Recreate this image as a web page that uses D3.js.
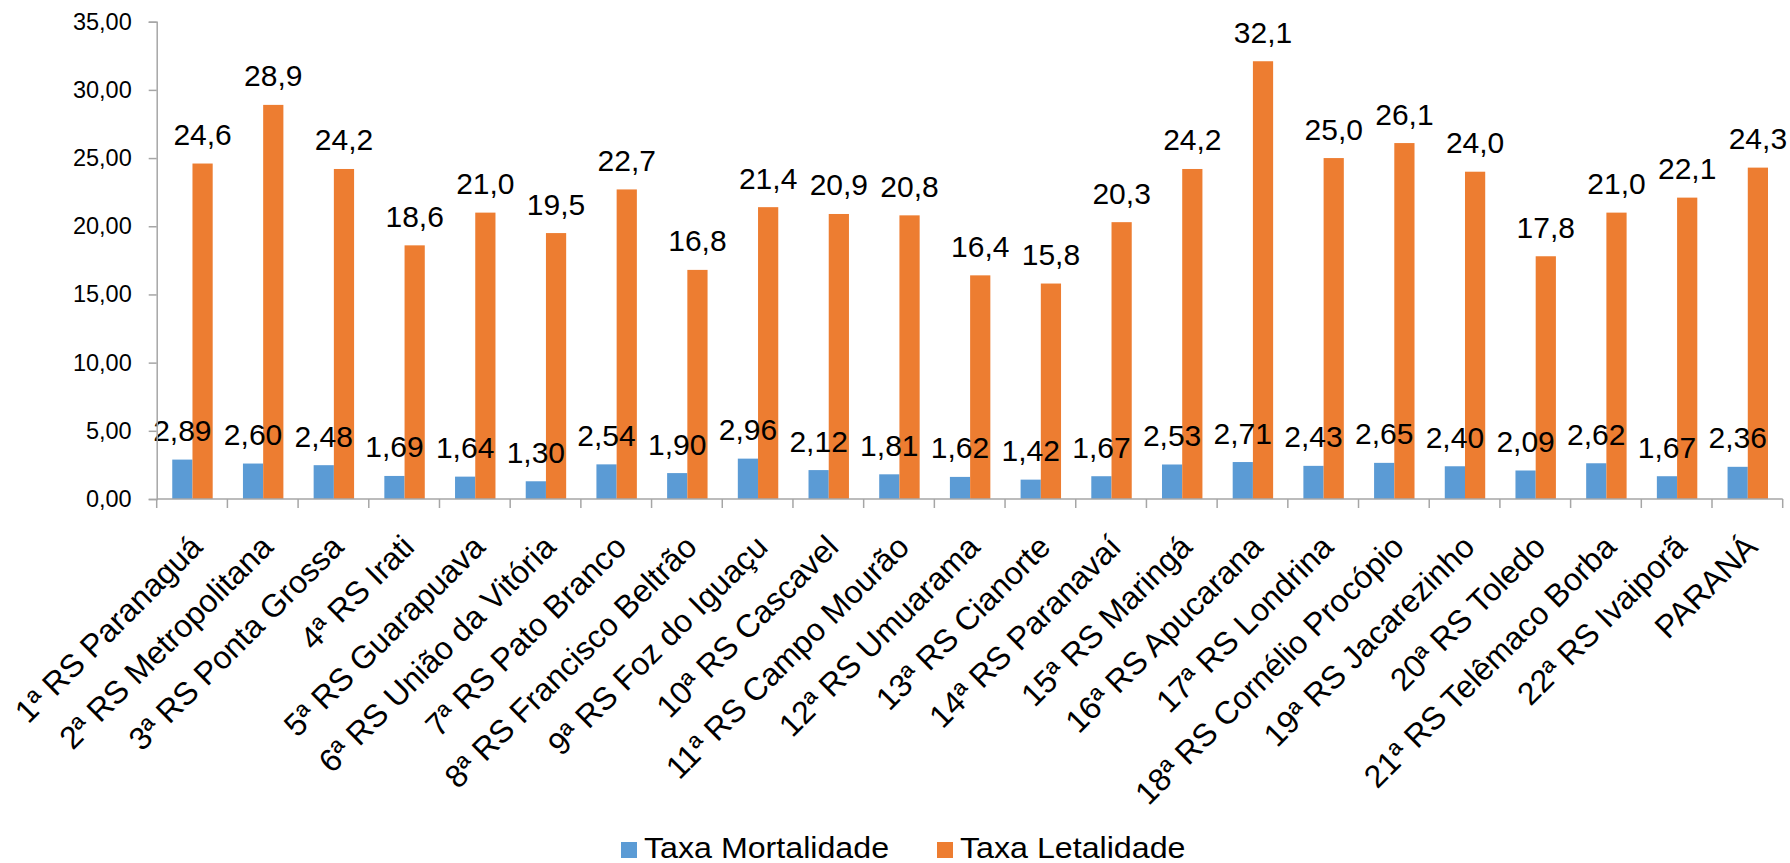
<!DOCTYPE html>
<html>
<head>
<meta charset="utf-8">
<script src="https://cdn.jsdelivr.net/npm/d3@7"></script>
<style>
  html, body { margin: 0; padding: 0; background: #fff; }
  svg text { font-family: "Liberation Sans", Arial, sans-serif; fill: #000; }
</style>
</head>
<body>
<svg id="chart" width="1790" height="863"></svg>
<script>
const categories = [
  "1ª RS Paranaguá", "2ª RS Metropolitana", "3ª RS Ponta Grossa", "4ª RS Irati",
  "5ª RS Guarapuava", "6ª RS União da Vitória", "7ª RS Pato Branco",
  "8ª RS Francisco Beltrão", "9ª RS Foz do Iguaçu", "10ª RS Cascavel",
  "11ª RS Campo Mourão", "12ª RS Umuarama", "13ª RS Cianorte", "14ª RS Paranavaí",
  "15ª RS Maringá", "16ª RS Apucarana", "17ª RS Londrina", "18ª RS Cornélio Procópio",
  "19ª RS Jacarezinho", "20ª RS Toledo", "21ª RS Telêmaco Borba", "22ª RS Ivaiporã",
  "PARANÁ"
];
const taxaMortalidade = [2.89, 2.60, 2.48, 1.69, 1.64, 1.30, 2.54, 1.90, 2.96, 2.12, 1.81, 1.62, 1.42, 1.67, 2.53, 2.71, 2.43, 2.65, 2.40, 2.09, 2.62, 1.67, 2.36];
const taxaLetalidade = [24.6, 28.9, 24.2, 18.6, 21.0, 19.5, 22.7, 16.8, 21.4, 20.9, 20.8, 16.4, 15.8, 20.3, 24.2, 32.1, 25.0, 26.1, 24.0, 17.8, 21.0, 22.1, 24.3];
const seriesNames = ["Taxa Mortalidade", "Taxa Letalidade"];
const seriesColors = ["#5B9BD5", "#ED7D31"];
const yTicks = [0, 5, 10, 15, 20, 25, 30, 35];

(function () {
const svg = d3.select("#chart");
const pLeft = 156.7, pRight = 1782.7, pTop = 21.7, pBottom = 499;
const axisColor = "#A6A6A6";

const x = d3.scaleBand().domain(categories).range([pLeft, pRight]).padding(0);
const bw = x.bandwidth();
const xs = d3.scaleBand().domain([0, 1]).range([bw * 0.22, bw * 0.792]).padding(0);
const y = d3.scaleLinear().domain([0, 35]).range([pBottom, pTop]);

const comma = v => v.toFixed(2).replace(".", ",");
const comma1 = v => v.toFixed(1).replace(".", ",");

const series = [taxaMortalidade, taxaLetalidade];
const fmts = [comma, comma1];
series.forEach((vals, si) => {
  svg.append("g").selectAll("rect").data(vals).join("rect")
    .attr("x", (d, i) => x(categories[i]) + xs(si))
    .attr("width", xs.bandwidth())
    .attr("y", d => y(d))
    .attr("height", d => pBottom - y(d))
    .attr("fill", seriesColors[si]);
});
series.forEach((vals, si) => {
  svg.append("g").selectAll("text").data(vals).join("text")
    .attr("x", (d, i) => x(categories[i]) + xs(si) + xs.bandwidth() / 2)
    .attr("y", d => y(d) - 18.5)
    .attr("text-anchor", "middle")
    .attr("font-size", 30)
    .text(d => fmts[si](d));
});

const yAxis = d3.axisLeft(y).tickValues(yTicks).tickFormat(comma).tickSize(8).tickPadding(17);
const gy = svg.append("g").attr("transform", `translate(${pLeft},0)`).call(yAxis);
gy.select(".domain").attr("stroke", axisColor).attr("stroke-width", 1.5);
gy.selectAll(".tick line").attr("stroke", axisColor).attr("stroke-width", 1.5);
gy.selectAll(".tick text").attr("font-size", 23.5).attr("fill", "#000")
  .style("font-family", "'Liberation Sans', Arial, sans-serif");

const boundaries = categories.map(c => x(c)).concat([pRight]);
const gx = svg.append("g");
gx.append("line").attr("x1", pLeft).attr("x2", pRight).attr("y1", pBottom).attr("y2", pBottom)
  .attr("stroke", axisColor).attr("stroke-width", 1.5);
gx.selectAll("line.tk").data(boundaries).join("line").attr("class", "tk")
  .attr("x1", d => d).attr("x2", d => d).attr("y1", pBottom).attr("y2", pBottom + 9)
  .attr("stroke", axisColor).attr("stroke-width", 1.5);
gx.selectAll("text").data(categories).join("text")
  .attr("transform", d => `translate(${x(d) + bw / 2 + 12},${pBottom + 50}) rotate(-45)`)
  .attr("text-anchor", "end")
  .attr("font-size", 32)
  .text(d => d);

const legendX = [621, 937];
seriesNames.forEach((name, i) => {
  svg.append("rect").attr("x", legendX[i]).attr("y", 842).attr("width", 16).attr("height", 16)
    .attr("fill", seriesColors[i]);
  svg.append("text")
    .attr("transform", `translate(${legendX[i] + 23},858) scale(1.11,1)`)
    .attr("font-size", 29)
    .text(name);
});
})();
</script>
</body>
</html>
